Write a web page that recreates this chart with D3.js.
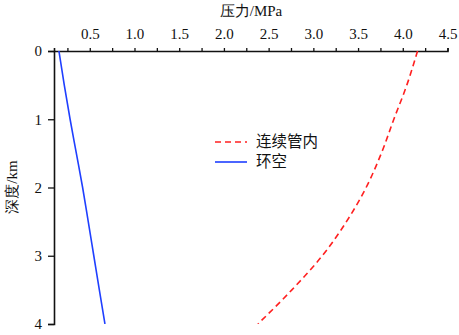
<!DOCTYPE html>
<html>
<head>
<meta charset="utf-8">
<script src="https://cdn.jsdelivr.net/npm/d3@7"></script>
<style>
  body { margin: 0; background: #fff; }
</style>
</head>
<body>
<svg id="chart" width="459" height="335"></svg>
<script>
// depth (km) and pressure (MPa)
const depths = [0, 0.5, 1, 1.5, 2, 2.5, 3, 3.5, 4];
const coilPressure = [4.165, 4.045, 3.9, 3.76, 3.59, 3.37, 3.1, 2.76, 2.38];
const annulusPressure = [0.155, 0.215, 0.28, 0.35, 0.42, 0.483, 0.545, 0.607, 0.67];
const xTicks = [0.5, 1.0, 1.5, 2.0, 2.5, 3.0, 3.5, 4.0, 4.5];
const yTicks = [0, 1, 2, 3, 4];
const seriesNames = ['连续管内', '环空'];

const serif = '"Liberation Serif", "Times New Roman", Times, "DejaVu Serif", serif';

const margin = { top: 51, right: 11, bottom: 11, left: 54 };
const width = 459 - margin.left - margin.right;
const height = 335 - margin.top - margin.bottom;

const svg = d3.select('#chart');
const chart = svg.append('g')
  .attr('transform', `translate(${margin.left},${margin.top})`);

const x = d3.scaleLinear().domain([0.1, 4.5]).range([0, width - 0.5]);
const y = d3.scaleLinear().domain([0, 4]).range([0, height]);

chart.append('clipPath').attr('id', 'clip')
  .append('rect').attr('width', width).attr('height', height);

// x axis on top, minor ticks every 0.25
const minorTicks = d3.range(0.25, 4.5, 0.5);
chart.append('g')
  .call(d3.axisTop(x).tickValues(xTicks).tickFormat(d3.format('.1f')).tickSize(3).tickPadding(9));
chart.append('g')
  .call(d3.axisTop(x).tickValues(minorTicks).tickFormat('').tickSize(3))
  .select('.domain').remove();

chart.append('g')
  .call(d3.axisLeft(y).tickValues(yTicks).tickFormat(d3.format('d')).tickSize(6).tickPadding(6));

chart.selectAll('.domain').attr('stroke', '#111').attr('stroke-width', 1.6);
chart.selectAll('.tick line').attr('stroke', '#111').attr('stroke-width', 1.3);
chart.selectAll('.tick text')
  .attr('font-family', null)
  .style('font-family', serif)
  .style('font-size', '15px')
  .style('fill', '#111');
chart.selectAll('g').attr('font-family', null);

const line = (vals) => d3.line()
  .curve(d3.curveMonotoneY)
  .x((d, i) => x(vals[i]))
  .y((d) => y(d))(depths);

const plot = chart.append('g').attr('clip-path', 'url(#clip)');
plot.append('path')
  .attr('d', line(coilPressure))
  .attr('fill', 'none')
  .attr('stroke', '#ff2020')
  .attr('stroke-width', 1.6)
  .attr('stroke-dasharray', '6,4');
plot.append('path')
  .attr('d', line(annulusPressure))
  .attr('fill', 'none')
  .attr('stroke', '#1f3fff')
  .attr('stroke-width', 1.6);

// titles
svg.append('text')
  .attr('x', 251).attr('y', 16)
  .attr('text-anchor', 'middle')
  .style('font-family', serif)
  .style('font-size', '15px')
  .style('fill', '#111')
  .text('压力/MPa');

svg.append('text')
  .attr('transform', `translate(17,187) rotate(-90)`)
  .attr('text-anchor', 'middle')
  .style('font-family', serif)
  .style('font-size', '15px')
  .style('fill', '#111')
  .text('深度/km');

// legend
const legend = svg.append('g').attr('transform', 'translate(215,142)');
const styles = [
  { color: '#ff2020', dash: '6,4' },
  { color: '#1f3fff', dash: null }
];
seriesNames.forEach((name, i) => {
  const g = legend.append('g').attr('transform', `translate(0,${i * 20})`);
  g.append('line')
    .attr('x1', 0).attr('x2', 32)
    .attr('stroke', styles[i].color)
    .attr('stroke-width', 1.6)
    .attr('stroke-dasharray', styles[i].dash);
  g.append('text')
    .attr('x', 41).attr('dy', '0.35em')
    .style('font-family', '"Noto Sans CJK SC", sans-serif')
    .style('font-size', '15.5px')
    .style('fill', '#111')
    .text(name);
});
</script>
</body>
</html>
